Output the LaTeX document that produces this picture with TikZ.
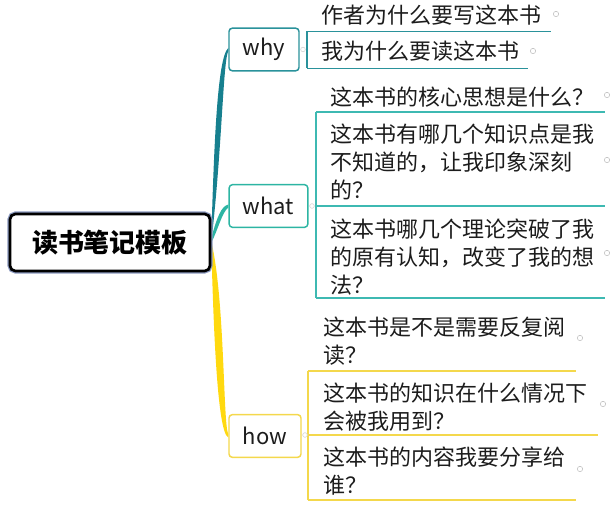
\documentclass[tikz,border=0pt]{standalone}
\usepackage{fontspec}
\newfontfamily\cjk{Noto Sans CJK SC}
\usepackage{xcolor}
\usepackage{tikz}
\usetikzlibrary{positioning,calc,backgrounds}

\definecolor{whyline}{HTML}{17808F}
\definecolor{whatline}{HTML}{2DB5A3}
\definecolor{howline}{HTML}{FFD90F}
\definecolor{whysub}{HTML}{2A929B}
\definecolor{whatsub}{HTML}{3EB9B2}
\definecolor{howsub}{HTML}{F4D84C}
\definecolor{rootedge}{HTML}{8A98BE}
\definecolor{textc}{HTML}{1C1C1C}

\begin{document}
\begin{tikzpicture}[x=0.75pt, y=-0.75pt,
    root/.style={rectangle, draw=black, line width=2pt, rounded corners=4pt, fill=white, minimum width=150pt, minimum height=42.75pt, font=\cjk\bfseries\fontsize{19.5pt}{22pt}\selectfont, preaction={draw=rootedge, line width=3.8pt}},
    topic/.style={rectangle, rounded corners=2.5pt, line width=1.1pt, fill=white, minimum height=32pt, inner sep=0pt, text=textc, font=\cjk\fontsize{16.5pt}{20pt}\selectfont},
    sub/.style={anchor=base west, align=left, inner sep=0pt, text=textc, font=\cjk\fontsize{16.5pt}{21pt}\selectfont},
    uline/.style={line width=1.3pt},
    foldmark/.style={circle, draw=gray!55, fill=white, line width=0.4pt, inner sep=0pt, minimum size=4pt},
    joint/.style={circle, draw=gray!35, fill=white, line width=0.4pt, inner sep=0pt, minimum size=3.5pt}
]
\useasboundingbox (0,0) rectangle (612,505);

% Root
\node[root] (root) at (110,242.5) {读书笔记模板};

% Main topics
\node[topic, draw=whysub, minimum width=52.5pt] (why) at (264,49.5) {why};
\node[topic, draw=whatline, minimum width=59pt] (what) at (268.5,206) {what};
\node[topic, draw=howsub, minimum width=54pt] (how) at (265,436) {how};

% Stems
\begin{scope}[on background layer]
\fill[whyline] ($(root.east)+(0,-1)$) .. controls (222,150) and (223,62) .. ($(why.west)+(0,1.5)$)
    -- ($(why.west)+(0,-1.5)$) .. controls (217,58) and (214,150) .. ($(root.east)+(0,-7)$) -- cycle;
\fill[howline] ($(root.east)+(0,-1)$) .. controls (225,300) and (223,425) .. ($(how.west)+(0,-2)$)
    -- ($(how.west)+(0,1.5)$) .. controls (216,432) and (213,300) .. ($(root.east)+(0,7)$) -- cycle;
\fill[whatline] ($(root.east)+(0,-5)$) .. controls (217,218) and (221,206) .. ($(what.west)+(0,-1.5)$)
    -- ($(what.west)+(0,1.5)$) .. controls (222,212) and (218,230) .. ($(root.east)+(0,0)$) -- cycle;
\end{scope}

% why
\coordinate (wy1) at (307,31.5);
\coordinate (wy2) at (307,68.5);
\draw[uline, whysub] (wy1) -- (wy2);
\draw[uline, whysub] (wy1) -- ++(244,0);
\draw[uline, whysub] (wy2) -- ++(221,0);
\node[joint] (jwhy) at (303,49.5) {};
\node[sub] (wy1t) at (321,24) {作者为什么要写这本书};
\node[sub] (wy2t) at (321,60) {我为什么要读这本书};
\node[foldmark] (wy1m) at (556,14) {};
\node[foldmark] (wy2m) at (533,51) {};

% what
\coordinate (wt1) at (316,112);
\coordinate (wt2) at (316,206);
\coordinate (wt3) at (316,298);
\draw[uline, whatsub] (wt1) -- (wt3);
\draw[uline, whatsub] (wt1) -- ++(289,0);
\draw[uline, whatsub] (wt2) -- ++(289,0);
\draw[uline, whatsub] (wt3) -- ++(289,0);
\node[joint] (jwhat) at (312,206) {};
\node[sub] (wt1t) at (330,106) {这本书的核心思想是什么？};
\node[sub] (wt2t) at (330,199) {这本书有哪几个知识点是我\\不知道的，让我印象深刻\\的？};
\node[sub] (wt3t) at (330,294) {这本书哪几个理论突破了我\\的原有认知，改变了我的想\\法？};
\node[foldmark] (wt1m) at (607,95) {};
\node[foldmark] (wt2m) at (607,160) {};
\node[foldmark] (wt3m) at (607,253) {};

% how
\coordinate (hw1) at (308,371);
\coordinate (hw2) at (308,435);
\coordinate (hw3) at (308,500);
\draw[uline, howsub] (hw1) -- (hw3);
\draw[uline, howsub] (hw1) -- ++(268,0);
\draw[uline, howsub] (hw2) -- ++(290,0);
\draw[uline, howsub] (hw3) -- ++(268,0);
\node[joint] (jhow) at (305,435) {};
\node[sub] (hw1t) at (323,364) {这本书是不是需要反复阅\\读？};
\node[sub] (hw2t) at (323,430) {这本书的知识在什么情况下\\会被我用到？};
\node[sub] (hw3t) at (323,494) {这本书的内容我要分享给\\谁？};
\node[foldmark] (hw1m) at (580,338) {};
\node[foldmark] (hw2m) at (603,404) {};
\node[foldmark] (hw3m) at (580,469) {};

\end{tikzpicture}
\end{document}
